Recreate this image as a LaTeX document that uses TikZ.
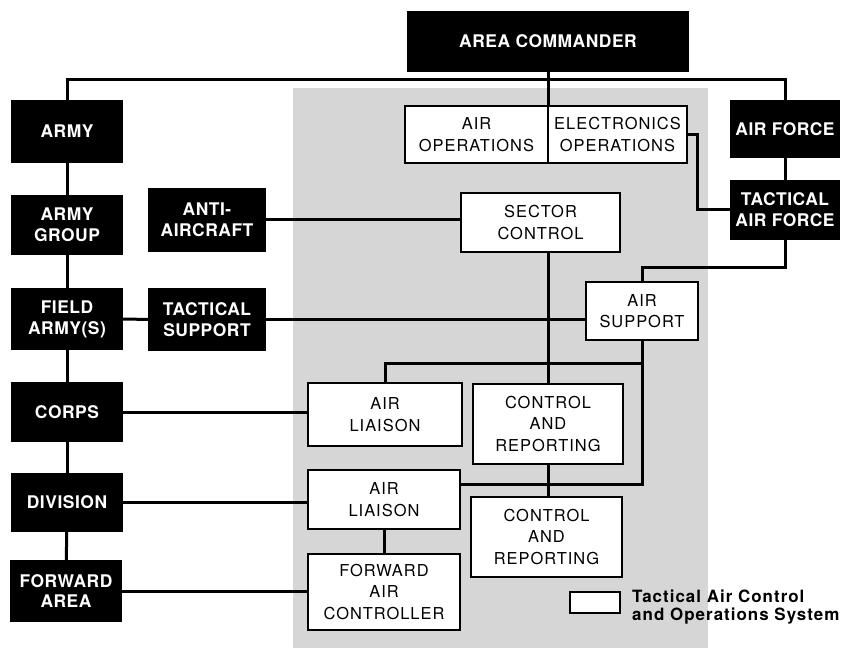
\documentclass[tikz,border=0pt]{standalone}
\usepackage{fontspec}
\setmainfont{TeX Gyre Heros}
\newfontfamily\blkfont{TeX Gyre Heros}[LetterSpace=3]
\newfontfamily\whtfont{TeX Gyre Heros}[LetterSpace=6]
\newfontfamily\legfont{TeX Gyre Heros}[LetterSpace=6]
\begin{document}
\begin{tikzpicture}[x=1bp,y=-1bp,
  blackbox/.style={fill=black, text=white, align=center, inner sep=0pt,
    font=\blkfont\bfseries\fontsize{17.5}{21}\selectfont},
  whitebox/.style={draw=black, line width=2bp, fill=white, align=center, inner sep=0pt,
    font=\whtfont\fontsize{16.5}{21.5}\selectfont},
  conn/.style={line width=3bp, line cap=rect}]
\useasboundingbox (0,0) rectangle (851,648);
% shaded TACOS region
\fill[black!16] (293,88) rectangle (708,648);

% black (command) boxes
\node[blackbox, minimum width=283, minimum height=61] (cmd) at (548,41.5) {AREA COMMANDER};
\node[blackbox, minimum width=112, minimum height=63] (army) at (67,131.5) {ARMY};
\node[blackbox, minimum width=112, minimum height=60] (armygrp) at (67,225) {ARMY\\GROUP};
\node[blackbox, minimum width=112, minimum height=62] (field) at (67,319) {FIELD\\ARMY(S)};
\node[blackbox, minimum width=112, minimum height=60] (corps) at (67,412) {CORPS};
\node[blackbox, minimum width=112, minimum height=59] (division) at (67,502.5) {DIVISION};
\node[blackbox, minimum width=113, minimum height=62] (fwdarea) at (66,591) {FORWARD\\AREA};
\node[blackbox, minimum width=118, minimum height=64] (anti) at (207,220) {ANTI-\\AIRCRAFT};
\node[blackbox, minimum width=118, minimum height=63] (tacsup) at (207,319.5) {TACTICAL\\SUPPORT};
\node[blackbox, minimum width=111, minimum height=58] (airforce) at (785,129) {AIR FORCE};
\node[blackbox, minimum width=111, minimum height=60] (taf) at (785,210) {TACTICAL\\AIR FORCE};

% bus coordinates
\coordinate (busL) at (67,80);
\coordinate (busR) at (785,80);
\coordinate (j1) at (642,363);
\coordinate (j2) at (642,484);

% connectors between command boxes
\draw[conn] (busL) -- (busR);
\draw[conn] (busL) -- (army.north);
\draw[conn] (army) -- (armygrp);
\draw[conn] (armygrp) -- (field);
\draw[conn] (field) -- (corps);
\draw[conn] (corps) -- (division);
\draw[conn] (division) -- (fwdarea);
\draw[conn] (busR) -- (airforce.north);
\draw[conn] (airforce) -- (taf);
\draw[conn] (field) -- (tacsup);

% white boxes
\node[whitebox, minimum width=143, minimum height=57] (airops) at (476.5,134.5) {AIR\\OPERATIONS};
\node[whitebox, minimum width=139, minimum height=57] (elecops) at (617.5,134.5) {ELECTRONICS\\OPERATIONS};
\node[whitebox, minimum width=159, minimum height=59] (sector) at (540.5,222.5) {SECTOR\\CONTROL};
\node[whitebox, minimum width=112, minimum height=58] (airsup) at (642,311) {AIR\\SUPPORT};
\node[whitebox, minimum width=154, minimum height=63] (al1) at (385,414.5) {AIR\\LIAISON};
\node[whitebox, minimum width=150, minimum height=80] (cr1) at (548,424) {CONTROL\\AND\\REPORTING};
\node[whitebox, minimum width=152, minimum height=59] (al2) at (384,499.5) {AIR\\LIAISON};
\node[whitebox, minimum width=151, minimum height=80] (cr2) at (546.5,537) {CONTROL\\AND\\REPORTING};
\node[whitebox, minimum width=152, minimum height=76] (fac) at (384,592) {FORWARD\\AIR\\CONTROLLER};
\node[whitebox, minimum width=50, minimum height=21] (legbox) at (595,602.5) {};
\node[anchor=west, align=left, inner sep=0pt,
  font=\legfont\bfseries\fontsize{17}{18.5}\selectfont] (legtext) at (632,607)
  {Tactical Air Control\\and Operations System};

% connectors touching white boxes
\draw[conn] (cmd.south) -- (cmd.south |- airops.north);
\draw[conn] (airops.south -| cmd.south) -- (airops.south -| cmd.south |- sector.north);
\draw[conn] (elecops.east) -- ++(10,0) |- (taf.west);
\draw[conn] (taf.south) -- ++(0,27) -| (airsup.north);
\draw[conn] (anti.east) -- (anti.east -| sector.west);
\draw[conn] (tacsup.east) -- (tacsup.east -| airsup.west);
\draw[conn] (sector.south -| cr1.north) -- (cr1.north);
\draw[conn] (al1.north) |- (j1);
\draw[conn] (airsup.south) -- (j2);
\draw[conn] (al2.east |- j2) -- (j2);
\draw[conn] (cr1.south) -- (cr1.south |- cr2.north);
\draw[conn] (al2) -- (fac);
\draw[conn] (corps.east) -- (corps.east -| al1.west);
\draw[conn] (division.east) -- (division.east -| al2.west);
\draw[conn] (fwdarea.east) -- (fwdarea.east -| fac.west);
\end{tikzpicture}
\end{document}
